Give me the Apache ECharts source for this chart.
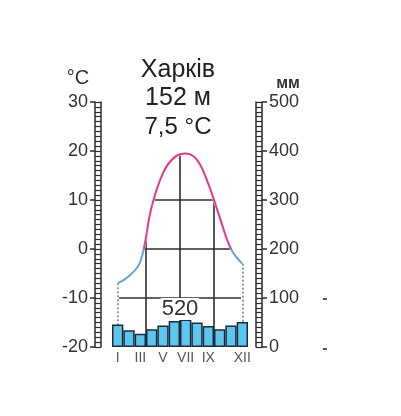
<!DOCTYPE html>
<html><head><meta charset="utf-8">
<script src="https://cdn.jsdelivr.net/npm/echarts@6/dist/echarts.min.js"></script>
<style>html,body{margin:0;padding:0;background:#fff}#c{width:401px;height:416px}</style>
</head><body><div id="c"></div>
<script>
const months = ['I','II','III','IV','V','VI','VII','VIII','IX','X','XI','XII'];
const shownMonths = ['I','III','V','VII','IX','XII'];
const temperature = [-7, -5.5, -2.6, 8.6, 15.5, 18.7, 19.5, 18.2, 13.3, 6.5, 0, -3];
const precipitation = [46, 34, 27, 36, 44, 53, 56, 50, 43, 36, 44, 51];
const tempRange = [-20, 30];
const precipRange = [0, 500];
const gridLevels = [-10, 0, 10];
const quarterBounds = [2.5, 5.5, 8.5];
const station = 'Харків', altitude = '152 м', meanTemp = '7,5 °C', annualPrecip = '520';
const tempUnit = '°C', precipUnit = 'мм';

const FF = 'Liberation Sans, Arial, sans-serif';
const tempPts = temperature.map((t, i) => [i, t]);
const last = months.length - 1;
const inset = 0.12;

const chart = echarts.init(document.getElementById('c'), null, {renderer: 'canvas'});

function ladderAxis(pos, min, max, interval, offset) {
  return {
    type: 'value', position: pos, min, max, interval, offset,
    axisLine: {show: true, onZero: false, lineStyle: {color: '#2b2b2b', width: 1.5}},
    axisTick: {show: true, length: 6, lineStyle: {color: '#2b2b2b', width: 1.2}},
    minorTick: {show: true, splitNumber: 10, length: 6, lineStyle: {color: '#2b2b2b', width: 1.2}},
    axisLabel: {show: false}, splitLine: {show: false}, minorSplitLine: {show: false}
  };
}
function labelAxis(pos, min, max, interval, offset) {
  return {
    type: 'value', position: pos, min, max, interval, offset,
    axisLine: {show: true, onZero: false, lineStyle: {color: '#2b2b2b', width: 1.5}},
    axisTick: {show: true, length: 5, lineStyle: {color: '#2b2b2b', width: 1.5}},
    axisLabel: {show: true, fontSize: 18, color: '#333', fontFamily: FF, margin: 7, showMinLabel: true, showMaxLabel: true},
    splitLine: {show: false}
  };
}

const option = {
  animation: false,
  backgroundColor: '#fff',
  grid: {left: 112, right: 153, top: 102, bottom: 69, containLabel: false, outerBoundsMode: 'none'},
  xAxis: [
    {type: 'category', data: months, boundaryGap: true,
     axisLine: {show: false, onZero: false}, axisTick: {show: false}, splitLine: {show: false},
     axisLabel: {show: true, interval: 0, fontSize: 14, color: '#555', fontFamily: FF, margin: 4,
       formatter: v => shownMonths.includes(v) ? v : ''}},
    {type: 'value', min: -0.5, max: last + 0.5, show: false, axisLine: {onZero: false}, splitLine: {show: false}}
  ],
  yAxis: [
    ladderAxis('left', tempRange[0], tempRange[1], 10, 11),
    labelAxis('left', tempRange[0], tempRange[1], 10, 17),
    ladderAxis('right', precipRange[0], precipRange[1], 100, 8),
    labelAxis('right', precipRange[0], precipRange[1], 100, 14)
  ],
  visualMap: {
    type: 'piecewise', show: false, seriesIndex: 4, dimension: 1,
    pieces: [{gte: -40, lt: 0, color: '#6aa3dc'}, {gte: 0, lte: 40, color: '#e5388c'}],
    outOfRange: {color: '#6aa3dc'}
  },
  series: [
    { // grid lines inside the climate curve
      type: 'line', xAxisIndex: 1, yAxisIndex: 0, data: tempPts, symbol: 'none', z: 1,
      lineStyle: {width: 0, opacity: 0}, silent: true,
      markLine: {
        z: 1, silent: true, symbol: ['none', 'none'], label: {show: false},
        lineStyle: {color: '#2e2e2e', width: 1.6, type: 'solid'},
        data: gridLevels.map(v => [{coord: [inset, v]}, {coord: [last - inset, v]}])
          .concat(quarterBounds.map(x => ({xAxis: x})))
      }
    },
    { // dotted drop lines at first/last month
      type: 'line', xAxisIndex: 1, yAxisIndex: 0, data: tempPts, symbol: 'none', z: 1,
      lineStyle: {width: 0, opacity: 0}, silent: true,
      markLine: {
        z: 1, silent: true, symbol: ['none', 'none'], label: {show: false},
        lineStyle: {color: '#9a9a9a', width: 2, type: [2, 2]},
        data: [0, last].map(i => [{coord: [i, temperature[i]]}, {coord: [i, tempRange[0]]}])
      }
    },
    { // white cover above the curve clips the grid
      type: 'line', xAxisIndex: 1, yAxisIndex: 0, data: tempPts, symbol: 'none', smooth: 0.4, z: 2,
      lineStyle: {width: 2.5, color: '#ffffff', opacity: 1}, silent: true,
      areaStyle: {color: '#ffffff', opacity: 1, origin: 'end'}
    },
    {
      type: 'bar', xAxisIndex: 0, yAxisIndex: 2, data: precipitation, barWidth: '100%', z: 3,
      itemStyle: {color: '#5cc6f0', borderColor: '#1f2a35', borderWidth: 1.5}
    },
    {
      type: 'line', xAxisIndex: 1, yAxisIndex: 0, data: tempPts, symbol: 'none', smooth: 0.4, z: 4,
      lineStyle: {width: 2}
    }
  ],
  graphic: [
    {type: 'text', x: 178, y: 70, z: 10, style: {text: station, font: '25px ' + FF, fill: '#222', align: 'center', verticalAlign: 'middle', textAlign: 'center', textVerticalAlign: 'middle'}},
    {type: 'text', x: 178, y: 98, z: 10, style: {text: altitude, font: '25px ' + FF, fill: '#222', align: 'center', verticalAlign: 'middle', textAlign: 'center', textVerticalAlign: 'middle'}},
    {type: 'text', x: 178, y: 127, z: 10, style: {text: meanTemp, font: '24px ' + FF, fill: '#222', align: 'center', verticalAlign: 'middle', textAlign: 'center', textVerticalAlign: 'middle'}},
    {type: 'text', x: 78, y: 78, z: 10, style: {text: tempUnit, font: '20px ' + FF, fill: '#333', align: 'center', verticalAlign: 'middle', textAlign: 'center', textVerticalAlign: 'middle'}},
    {type: 'text', x: 288, y: 84, z: 10, style: {text: precipUnit, font: 'bold 16px ' + FF, fill: '#333', align: 'center', verticalAlign: 'middle', textAlign: 'center', textVerticalAlign: 'middle'}},
    {type: 'text', x: 180, y: 309, z: 10, style: {text: annualPrecip, font: '22px ' + FF, fill: '#333', backgroundColor: '#fff', padding: [0, 1], align: 'center', verticalAlign: 'middle', textAlign: 'center', textVerticalAlign: 'middle'}},
    {type: 'text', x: 325, y: 299, z: 10, style: {text: '-', font: 'bold 16px ' + FF, fill: '#555', align: 'center', verticalAlign: 'middle', textAlign: 'center', textVerticalAlign: 'middle'}},
    {type: 'text', x: 325, y: 349, z: 10, style: {text: '-', font: 'bold 16px ' + FF, fill: '#555', align: 'center', verticalAlign: 'middle', textAlign: 'center', textVerticalAlign: 'middle'}}
  ]
};
chart.setOption(option);
</script>
</body></html>
